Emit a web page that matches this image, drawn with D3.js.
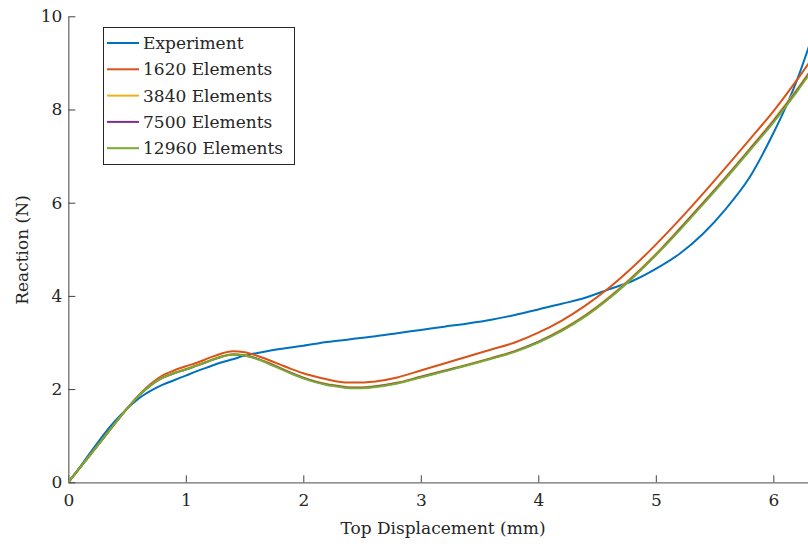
<!DOCTYPE html>
<head>
  <meta charset="utf-8">
<style>
body{
  margin: 0;
  background-color: white;
}
text{
  font-family: "DejaVu Serif", serif;
  fill: #262626;
}
.curve{
  fill: none;
  stroke-width: 2px;
  stroke-linejoin: round;
}
</style>
</head>
<body>
  <svg width="808" height="544"></svg>
</body>

<script src="https://d3js.org/d3.v7.min.js"></script>
<script>

// experiment
var expDisp  = [0,0.1,0.2,0.3,0.4,0.5,0.6,0.7,0.8,0.9,1.0,1.1,1.2,1.3,1.4,1.5,1.6,1.8,2.0,2.2,2.4,2.6,2.8,3.0,3.2,3.4,3.6,3.8,4.0,4.2,4.4,4.6,4.8,5.0,5.2,5.4,5.6,5.8,6.0,6.1,6.2,6.3,6.4];
var expForce = [0,0.33,0.68,1.02,1.32,1.58,1.80,1.96,2.09,2.19,2.29,2.39,2.48,2.57,2.64,2.72,2.77,2.86,2.93,3.01,3.07,3.13,3.20,3.27,3.34,3.41,3.49,3.59,3.71,3.83,3.96,4.14,4.32,4.58,4.90,5.33,5.88,6.55,7.49,8.02,8.62,9.33,10.1];

// simulations (same displacement steps)
var feDisp = [0,0.25,0.5,0.6,0.7,0.8,0.9,1.0,1.1,1.2,1.3,1.4,1.5,1.6,1.7,1.8,1.9,2.0,2.1,2.2,2.3,2.4,2.5,2.6,2.8,3.0,3.2,3.4,3.6,3.8,4.0,4.2,4.4,4.6,4.8,5.0,5.2,5.4,5.6,5.8,6.0,6.2,6.4];
var fe1620  = [0,0.79,1.58,1.87,2.11,2.29,2.40,2.49,2.57,2.67,2.76,2.81,2.79,2.72,2.63,2.53,2.43,2.34,2.27,2.21,2.16,2.14,2.14,2.16,2.25,2.40,2.55,2.70,2.85,3.00,3.21,3.47,3.79,4.17,4.61,5.10,5.63,6.19,6.77,7.36,7.96,8.63,9.36];
var fe3840  = [0,0.79,1.58,1.86,2.08,2.25,2.35,2.43,2.52,2.61,2.70,2.75,2.73,2.66,2.57,2.46,2.35,2.25,2.17,2.11,2.07,2.04,2.04,2.06,2.14,2.27,2.40,2.53,2.67,2.82,3.02,3.28,3.59,3.97,4.41,4.90,5.44,6.00,6.57,7.16,7.77,8.43,9.15];
var fe7500  = [0,0.79,1.58,1.86,2.08,2.24,2.34,2.42,2.51,2.60,2.69,2.74,2.72,2.66,2.56,2.45,2.34,2.24,2.16,2.10,2.06,2.03,2.03,2.05,2.13,2.26,2.39,2.52,2.66,2.81,3.01,3.26,3.57,3.95,4.39,4.88,5.42,5.98,6.55,7.14,7.74,8.40,9.12];
var fe12960 = [0,0.79,1.58,1.86,2.08,2.24,2.34,2.42,2.51,2.60,2.69,2.74,2.72,2.65,2.55,2.44,2.33,2.23,2.15,2.09,2.05,2.02,2.02,2.04,2.12,2.25,2.38,2.51,2.65,2.80,3.00,3.25,3.56,3.94,4.38,4.87,5.40,5.96,6.53,7.12,7.72,8.38,9.10];

var seriesNames  = ["Experiment","1620 Elements","3840 Elements","7500 Elements","12960 Elements"];
var seriesColors = ["#0072BD","#D95319","#EDB120","#7E2F8E","#77AC30"];

var xTicks = [0,1,2,3,4,5,6];
var yTicks = [0,2,4,6,8,10];

var series = [
  {name: seriesNames[0], x: expDisp, y: expForce},
  {name: seriesNames[1], x: feDisp, y: fe1620},
  {name: seriesNames[2], x: feDisp, y: fe3840},
  {name: seriesNames[3], x: feDisp, y: fe7500},
  {name: seriesNames[4], x: feDisp, y: fe12960}
];

var svg = d3.select("svg");

// axes box goes a bit past the picture on the right (cropped figure)
var pLeft = 68.3, pTop = 16.3, pBottom = 482.3, pRight = 820.3;

var x = d3.scaleLinear().domain([0, 6.4]).range([pLeft, pRight]);
var y = d3.scaleLinear().domain([0, 10]).range([pBottom, pTop]);

svg.append("clipPath").attr("id", "plotclip")
  .append("rect")
  .attr("x", pLeft).attr("y", pTop)
  .attr("width", pRight - pLeft).attr("height", pBottom - pTop);

var line = d3.line()
  .x(d => x(d[0]))
  .y(d => y(d[1]))
  .curve(d3.curveMonotoneX);

// axes, ticks inward like matlab
var xAxis = d3.axisBottom(x).tickValues(xTicks).tickFormat(d3.format("d"))
  .tickSizeInner(-7).tickSizeOuter(0).tickPadding(13);
var yAxis = d3.axisLeft(y).tickValues(yTicks).tickFormat(d3.format("d"))
  .tickSizeInner(-7).tickSizeOuter(0).tickPadding(13);

var gx = svg.append("g").attr("transform", "translate(0," + pBottom + ")").call(xAxis);
var gy = svg.append("g").attr("transform", "translate(" + pLeft + ",0)").call(yAxis);

[gx, gy].forEach(function(g) {
  g.select(".domain").attr("stroke", "#6e6e6e").attr("stroke-width", 1.3);
  g.selectAll(".tick line").attr("stroke", "#404040");
  g.selectAll(".tick text")
    .attr("font-family", "DejaVu Serif")
    .attr("font-size", 17)
    .attr("fill", "#262626");
});
gy.selectAll(".tick text").attr("x", -6);
gx.selectAll(".tick text").attr("y", 12);

var plot = svg.append("g").attr("clip-path", "url(#plotclip)");

series.forEach(function(s, i) {
  plot.append("path")
    .attr("class", "curve")
    .attr("stroke", seriesColors[i])
    .attr("d", line(s.x.map((v, k) => [v, s.y[k]])));
});

svg.append("text")
  .attr("x", 443)
  .attr("y", 534)
  .attr("text-anchor", "middle")
  .attr("font-size", 17)
  .text("Top Displacement (mm)");

svg.append("text")
  .attr("transform", "translate(28,250) rotate(-90)")
  .attr("text-anchor", "middle")
  .attr("font-size", 17)
  .text("Reaction (N)");

// legend
var legend = svg.append("g");
legend.append("rect")
  .attr("x", 103.5).attr("y", 27.5)
  .attr("width", 191).attr("height", 137)
  .attr("fill", "white")
  .attr("stroke", "#262626")
  .attr("stroke-width", 1);

seriesNames.forEach(function(n, i) {
  var ry = 43 + i * 26.3;
  legend.append("line")
    .attr("x1", 107).attr("x2", 139)
    .attr("y1", ry).attr("y2", ry)
    .attr("stroke", seriesColors[i])
    .attr("stroke-width", 2);
  legend.append("text")
    .attr("x", 143)
    .attr("y", ry + 6)
    .attr("font-size", 17)
    .text(n);
});

</script>
